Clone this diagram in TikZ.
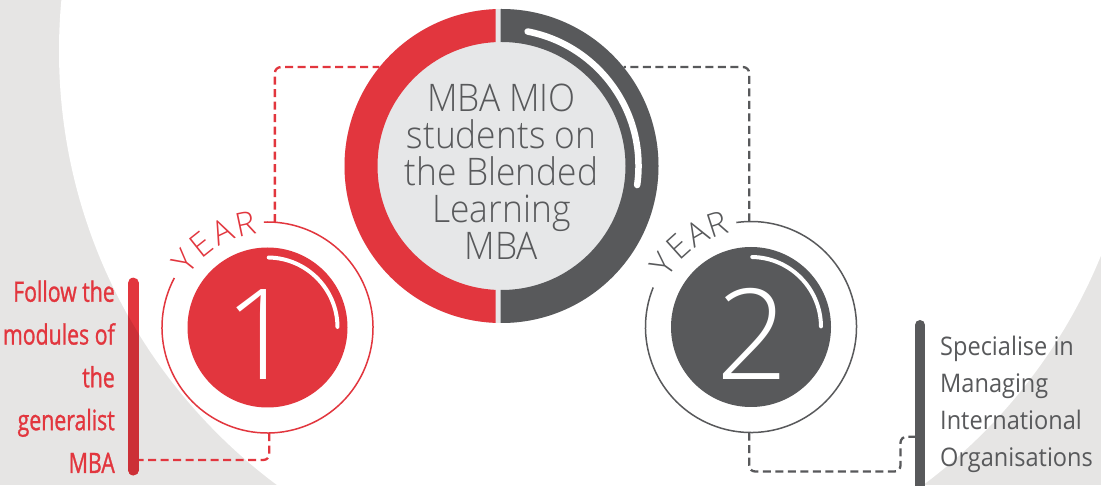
\documentclass[tikz,border=0pt]{standalone}
\usepackage{fontspec}
\setmainfont{Open Sans}
\IfFontExistsTF{Open Sans Light}{\newfontfamily\lightf{Open Sans Light}}{\newfontfamily\lightf{Open Sans}}
\IfFontExistsTF{Open Sans Light}{\newfontfamily\lightn[FakeStretch=0.93]{Open Sans Light}}{\newfontfamily\lightn[FakeStretch=0.93]{Open Sans}}
\newfontfamily\condf[FakeStretch=0.76,FakeBold=1]{Open Sans}
\newfontfamily\regf[FakeStretch=0.92]{Open Sans}
\definecolor{mred}{HTML}{E2363E}
\definecolor{dred}{RGB}{204,48,55}
\definecolor{dgray}{HTML}{58595B}
\definecolor{lgray}{HTML}{E6E7E8}
\definecolor{bggray}{HTML}{E6E5E4}
\begin{document}
\begin{tikzpicture}[x=1pt,y=1pt,
  conn/.style={line width=2.3pt, dash pattern=on 8pt off 4.5pt, rounded corners=6pt},
  ring/.style={circle, minimum size=211pt, inner sep=0pt},
  yearl/.style={font=\lightf\fontsize{33}{33}\selectfont, inner sep=0pt},
  digit/.style={font=\lightf\fontsize{126}{126}\selectfont, inner sep=0pt, text=white},
  glint/.style={white, line cap=round}]
\useasboundingbox (0,0) rectangle (1101,485);
\begin{scope}
\clip (0,0) rectangle (1101,485);
\fill[bggray] (0,0) rectangle (1101,485);
\fill[white] (600,434) circle (541);
\end{scope}

% nodes
\node[circle, minimum size=314pt, inner sep=0pt] (c) at (501.5,319) {};
\node[ring] (y1) at (267.5,157.5) {};
\node[ring] (y2) at (751,158) {};
\coordinate (b1) at (138.6,25);
\coordinate (k2) at (900.5,13.5);
\coordinate (b2) at (915,48.3);

% connectors
\draw[conn, mred] (y1.86) |- (c.141);
\draw[conn, dgray] (y2.91) |- (c.39);
\draw[conn, mred] (y1.271) |- (b1);
\draw[conn, dgray] (y2.269) |- (k2) |- (b2);

% centre circle
\fill[lgray] (c.center) circle (157);
\begin{scope}
\clip (300,150) rectangle (495.5,490);
\fill[mred, even odd rule] (c.center) circle (157) (c.center) circle (124);
\end{scope}
\begin{scope}
\clip (500.5,150) rectangle (700,490);
\fill[dgray, even odd rule] (c.center) circle (157) (c.center) circle (124);
\end{scope}
\draw[glint, line width=6.5pt] (c.center) ++(79:137) arc[start angle=79, end angle=-8, radius=137];
\node[font=\lightn\fontsize{38}{36.8}\selectfont, text=dgray, align=center, inner sep=0pt] (ct) at (501.5,313.2)
  {MBA MIO\\students on\\the Blended\\Learning\\MBA};

% year 1
\fill[mred] (y1.center) circle (80);
\draw[mred, line width=1.5pt] (y1.center) ++(152:105.5) arc[start angle=152, end angle=452, radius=105.5];
\draw[glint, line width=4pt] (y1.center) ++(89:70) arc[start angle=89, end angle=0.5, radius=70];
\foreach \a/\l in {141.5/Y,128.5/E,115.5/A,102/R}
  \node[yearl, text=mred, rotate=\a-90] at ([shift={(\a:106)}]y1.center) {\l};
\node[digit] (d1) at (260,150) {1};

% year 2
\fill[dgray] (y2.center) circle (80);
\draw[dgray, line width=1.5pt] (y2.center) ++(158:105.5) arc[start angle=158, end angle=458, radius=105.5];
\draw[glint, line width=4pt] (y2.center) ++(89:70) arc[start angle=89, end angle=0.5, radius=70];
\foreach \a/\l in {144.5/Y,132/E,120/A,108/R}
  \node[yearl, text=dgray, rotate=\a-90] at ([shift={(\a:108)}]y2.center) {\l};
\node[digit] (d2) at (752.5,151) {2};

% bars
\draw[mred, line width=10.7pt, line cap=round] (133.3,202) -- (133.3,15);
\begin{scope}[even odd rule]
\clip (-10,-10) rectangle (1111,495) (600,434) circle (541);
\draw[dred, line width=10.7pt, line cap=round] (133.3,202) -- (133.3,15);
\end{scope}
\draw[dgray, line width=10pt, line cap=round] (920,160) -- (920,-20);

% side texts
\node[font=\condf\fontsize{28}{42.8}\selectfont, text=mred, align=right, inner sep=0pt, anchor=east] (lt) at (115,108.3)
  {Follow the\\modules of\\the\\generalist\\MBA};
\node[font=\regf\fontsize{25.6}{37.3}\selectfont, text=dgray, align=left, inner sep=0pt, anchor=west] (rt) at (940,80.7)
  {Specialise in\\Managing\\International\\Organisations};
\end{tikzpicture}
\end{document}
